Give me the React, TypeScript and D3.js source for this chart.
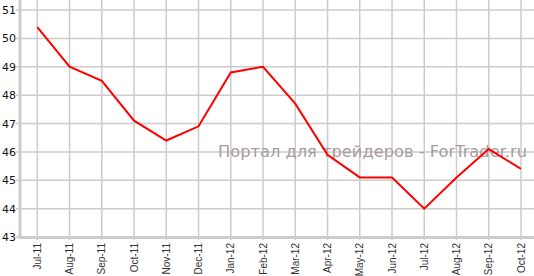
import React from "react";
import * as d3 from "d3";

const categories = ["Jul-11","Aug-11","Sep-11","Oct-11","Nov-11","Dec-11","Jan-12","Feb-12","Mar-12","Apr-12","May-12","Jun-12","Jul-12","Aug-12","Sep-12","Oct-12"];
const values = [50.4, 49.0, 48.5, 47.1, 46.4, 46.9, 48.8, 49.0, 47.7, 45.9, 45.1, 45.1, 44.0, 45.1, 46.1, 45.4];
const yTicks = [43, 44, 45, 46, 47, 48, 49, 50, 51];
const watermark = "Портал для трейдеров - ForTrader.ru";

export default function App() {
  const W = 534, H = 276;
  const x = d3.scalePoint<string>().domain(categories).range([37.3, 521]);
  const y = d3.scaleLinear().domain([43, 51]).range([237, 10]);
  const line = d3.line<number>().x((_, i) => x(categories[i])!).y(d => y(d));
  const grid = "#cccccc";
  return (
    <svg width={W} height={H} style={{ position: "absolute", left: 0, top: 0, background: "#fff" }}>
      {categories.map(c => (
        <line key={c} x1={x(c)} x2={x(c)} y1={0} y2={240} stroke={grid} strokeWidth={1.5} />
      ))}
      {yTicks.map(t => (
        <line key={t} x1={16} x2={W} y1={y(t)} y2={y(t)} stroke={grid} strokeWidth={1.5} />
      ))}
      <line x1={20} x2={20} y1={0} y2={239} stroke={grid} strokeWidth={3} />
      <line x1={19} x2={W} y1={237.5} y2={237.5} stroke={grid} strokeWidth={3} />
      {yTicks.map(t => (
        <text key={t} x={16} y={y(t) + 4} textAnchor="end" fontFamily="DejaVu Sans, Verdana, sans-serif" fontSize={11} fill="#111">{t}</text>
      ))}
      {categories.map(c => (
        <text key={c} transform={`translate(${x(c)! + 3.5},243) rotate(-90)`} textAnchor="end" fontFamily="Liberation Sans, Arial, sans-serif" fontSize={10} fill="#333">{c}</text>
      ))}
      <text x={218} y={157} fontFamily="DejaVu Sans, Verdana, sans-serif" fontSize={16} fill="#a89c9c" textLength={309} lengthAdjust="spacingAndGlyphs">{watermark}</text>
      <path d={line(values)!} fill="none" stroke="#ff0000" strokeWidth={2} strokeLinejoin="miter" />
    </svg>
  );
}
